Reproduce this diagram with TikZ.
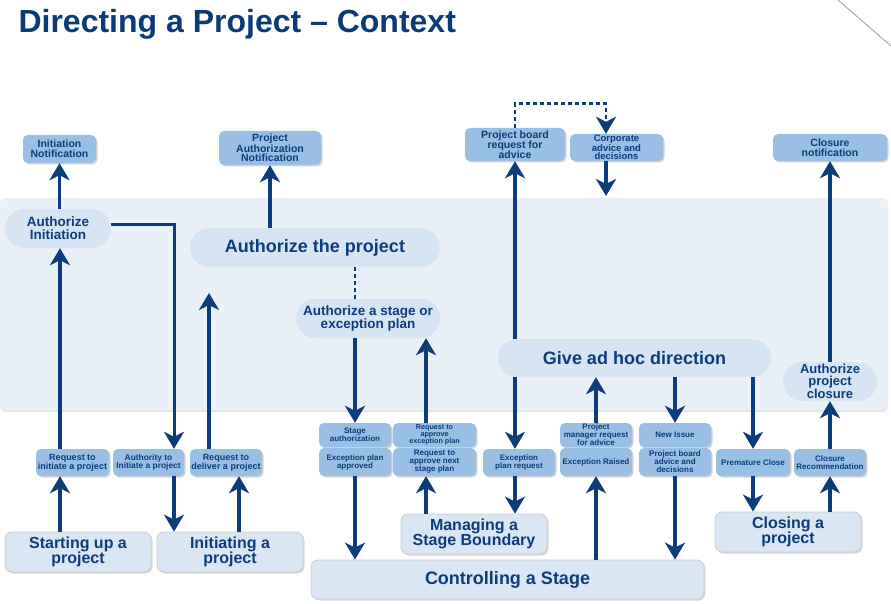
\documentclass[tikz,border=0pt]{standalone}
\usepackage{fontspec}
\setmainfont{Liberation Sans}
\usetikzlibrary{arrows.meta,shapes.misc,shadows}
\definecolor{navy}{RGB}{12,61,122}
\definecolor{titleblue}{RGB}{10,58,120}
\definecolor{docblue}{RGB}{153,191,228}
\definecolor{pillfill}{RGB}{214,228,243}
\definecolor{bandfill}{RGB}{233,240,248}
\definecolor{stagefill}{RGB}{218,230,243}
\tikzset{
  doc/.style={rounded corners=5pt, fill=docblue, text=navy, align=center, inner sep=0pt,
    drop shadow={shadow xshift=1.5pt, shadow yshift=-1.5pt, fill=black!35}},
  pill/.style={rounded rectangle, fill=pillfill, text=navy, align=center, inner sep=0pt},
  stagebox/.style={rounded corners=7pt, fill=stagefill, draw=black!20, line width=0.8pt,
    text=navy, align=center, inner sep=0pt,
    drop shadow={shadow xshift=1.5pt, shadow yshift=-1.5pt, fill=black!30}},
  band/.style={fill=bandfill, rounded corners=6pt,
    drop shadow={shadow xshift=0pt, shadow yshift=-2pt, fill=black!20}},
  fsa/.style={font=\bfseries\fontsize{8}{8}\selectfont},
  fsb/.style={font=\bfseries\fontsize{9}{9}\selectfont},
  fsc/.style={font=\bfseries\fontsize{10.5}{10}\selectfont},
  fsd/.style={font=\bfseries\fontsize{13.5}{13}\selectfont},
  fse/.style={font=\bfseries\fontsize{16}{15}\selectfont},
  fsf/.style={font=\bfseries\fontsize{18}{18}\selectfont},
  flow/.style={draw=navy, line width=3.8pt, ->},
  link/.style={draw=navy, line width=2.8pt, dash pattern=on 4pt off 3pt}
}
\begin{document}
\begin{tikzpicture}[x=1pt, y=-1pt, >={Stealth[length=17pt, width=20pt, inset=5pt]}]
\useasboundingbox (0,0) rectangle (891,604);
\path[band] (0,198) rectangle (888,410);
\draw[black!40, line width=0.8pt] (838,0) -- (891,46);
\node[anchor=base west, text=titleblue, font=\bfseries\fontsize{32}{32}\selectfont] (title) at (15,33) {Directing a Project -- Context};

\node[doc, fsc, minimum width=73pt, minimum height=28pt] (initnote) at (59.5,149) {Initiation\\Notification};
\node[doc, minimum width=102pt, minimum height=34pt, font=\bfseries\fontsize{10.5}{9.5}\selectfont] (projauthnote) at (270,148) {Project\\Authorization\\Notification};
\node[doc, fsc, minimum width=100pt, minimum height=33pt] (boardreq) at (515,144.5) {Project board\\request for\\advice};
\node[doc, minimum width=93pt, minimum height=27pt, font=\bfseries\fontsize{9.5}{8.5}\selectfont] (corpadvice) at (616.5,147.5) {Corporate\\advice and\\decisions};
\node[doc, fsc, minimum width=114pt, minimum height=27pt] (closenote) at (830,147.5) {Closure\\notification};

\node[pill, fsd, minimum width=106pt, minimum height=39pt] (authinit) at (58,228.5) {Authorize\\Initiation};
\node[pill, fsf, minimum width=250pt, minimum height=39pt] (authproj) at (315,247.5) {Authorize the project};
\node[pill, fsd, minimum width=144pt, minimum height=39pt] (authstage) at (368,318.5) {Authorize a stage or\\exception plan};
\node[pill, fsf, minimum width=273pt, minimum height=38pt] (adhoc) at (634.5,358) {Give ad hoc direction};
\node[pill, minimum width=94pt, minimum height=39pt, font=\bfseries\fontsize{13}{12}\selectfont] (authclose) at (830,381.5) {Authorize\\project\\closure};

\node[doc, fsb, minimum width=73pt, minimum height=27pt] (reqinit) at (72.5,462.5) {Request to\\initiate a project};
\node[doc, minimum width=71pt, minimum height=27pt, font=\bfseries\fontsize{8.4}{8.4}\selectfont] (authority) at (148.5,462.5) {Authority to\\Initiate a project};
\node[doc, fsb, minimum width=72pt, minimum height=27pt] (reqdeliver) at (226,462.5) {Request to\\deliver a project};
\node[doc, fsa, minimum width=72pt, minimum height=24pt] (stageauth) at (355,435) {Stage\\authorization};
\node[doc, fsa, minimum width=72pt, minimum height=28pt] (excapproved) at (355,462) {Exception plan\\approved};
\node[doc, minimum width=83pt, minimum height=24pt, font=\bfseries\fontsize{7.2}{7.2}\selectfont] (reqexcplan) at (434.5,435) {Request to\\approve\\exception plan};
\node[doc, fsa, minimum width=83pt, minimum height=28pt] (reqnext) at (434.5,462) {Request to\\approve next\\stage plan};
\node[doc, fsa, minimum width=72pt, minimum height=27pt] (excreq) at (519,462.5) {Exception\\plan request};
\node[doc, fsa, minimum width=72pt, minimum height=24pt] (pmreq) at (596,435) {Project\\manager request\\for advice};
\node[doc, fsa, minimum width=72pt, minimum height=28pt] (excraised) at (596,462) {Exception Raised};
\node[doc, fsa, minimum width=72pt, minimum height=24pt] (newissue) at (675,435) {New Issue};
\node[doc, fsa, minimum width=72pt, minimum height=28pt] (boardadvice) at (675,462) {Project board\\advice and\\decisions};
\node[doc, fsa, minimum width=74pt, minimum height=27pt] (premclose) at (753,462.5) {Premature Close};
\node[doc, fsa, minimum width=72pt, minimum height=27pt] (closerec) at (830,462.5) {Closure\\Recommendation};

\node[stagebox, fse, minimum width=146pt, minimum height=40pt] (startup) at (78,552) {Starting up a\\project};
\node[stagebox, fse, minimum width=146pt, minimum height=40pt] (initiating) at (230,552) {Initiating a\\project};
\node[stagebox, fse, minimum width=146pt, minimum height=40pt] (msb) at (474,534) {Managing a\\Stage Boundary};
\node[stagebox, fsf, minimum width=393pt, minimum height=39pt] (cas) at (507.5,579.5) {Controlling a Stage};
\node[stagebox, fse, minimum width=146pt, minimum height=40pt] (closing) at (788,532) {Closing a\\project};

\coordinate (delivertip) at (209,293);
\coordinate (corptip) at (606,196);

\draw[flow] (authinit.north -| initnote) -- (initnote.south);
\draw[flow] ([xshift=-12.5pt]reqinit.north) -- ([xshift=-12.5pt]reqinit.north |- authinit.south);
\draw[flow] ([xshift=-12.5pt]reqinit.south |- startup.north) -- ([xshift=-12.5pt]reqinit.south);
\draw[flow, line width=3pt] ([yshift=4pt]authinit.east) -| ([xshift=25.5pt]authority.north);
\draw[flow] ([xshift=25.5pt]authority.south) -- ([xshift=25.5pt]authority.south |- initiating.north);
\draw[flow] ([xshift=13pt]reqdeliver.south |- initiating.north) -- ([xshift=13pt]reqdeliver.south);
\draw[flow] ([xshift=-17pt]reqdeliver.north) -- (delivertip);
\draw[flow] (authproj.north -| projauthnote) -- (projauthnote.south);
\draw[link] (authproj.south -| stageauth) -- (authstage.north -| stageauth);
\draw[flow] (authstage.south -| stageauth) -- (stageauth.north);
\draw[flow] (excapproved.south) -- (excapproved.south |- cas.north);
\draw[flow] ([xshift=-8.5pt]reqnext.south |- msb.north) -- ([xshift=-8.5pt]reqnext.south);
\draw[flow] ([xshift=-8.5pt]reqexcplan.north) -- ([xshift=-8.5pt]reqexcplan.north |- authstage.south);
\draw[flow] (adhoc.north -| boardreq) -- (boardreq.south);
\draw[flow] (adhoc.south -| boardreq) -- (excreq.north -| boardreq);
\draw[flow] (excreq.south -| boardreq) -- (msb.north -| boardreq);
\draw[link, ->] (boardreq.north) -- ++(0,-24) -| ([xshift=-10.5pt]corpadvice.north);
\draw[flow] ([xshift=-10.5pt]corpadvice.south) -- (corptip);
\draw[flow] (cas.north -| excraised) -- (excraised.south);
\draw[flow] (pmreq.north) -- (adhoc.south -| pmreq);
\draw[flow] (adhoc.south -| newissue) -- (newissue.north);
\draw[flow] (boardadvice.south) -- (boardadvice.south |- cas.north);
\draw[flow] (adhoc.south -| premclose) -- (premclose.north);
\draw[flow] (premclose.south) -- (premclose.south |- closing.north);
\draw[flow] (closing.north -| closerec) -- (closerec.south);
\draw[flow] (closerec.north) -- (authclose.south);
\draw[flow] (authclose.north) -- (closenote.south);
\end{tikzpicture}
\end{document}
